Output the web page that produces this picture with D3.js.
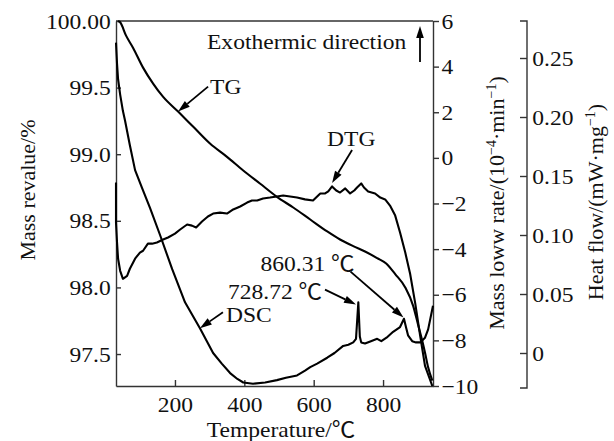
<!DOCTYPE html>
<html><head><meta charset="utf-8">
<script src="https://cdn.jsdelivr.net/npm/d3@7"></script>
<style>
body{margin:0;background:#fff}
svg{display:block}
svg text{font-family:"Liberation Serif","Times New Roman","Noto Sans CJK SC",serif !important;fill:#111}
</style>
</head><body>
<svg id="chart" width="614" height="441"></svg>
<script>
// ---------- data ----------
const tgTemperature = [36,42,59,79,108,137,166,209,255,301,350,396,445,494,541,590,639,676,714,748,783,809,835,864,887,901,913,921,930,942];
const tgMass = [100.00,99.99,99.89,99.80,99.65,99.53,99.43,99.32,99.20,99.08,98.98,98.88,98.78,98.68,98.60,98.51,98.42,98.36,98.31,98.27,98.22,98.18,98.10,98.00,97.86,97.72,97.60,97.51,97.40,97.30];

const dtgTemperature = [30,30,33,36,42,50,62,70,85,99,108,122,134,148,166,180,200,215,235,249,261,278,295,310,330,350,368,388,408,422,437,454,474,494,512,532,552,575,598,610,619,633,642,653,665,676,691,705,717,725,737,745,757,777,792,806,820,835,849,864,878,893,907,921,942];
const dtgRate = [-1.08,-2.84,-3.71,-4.42,-4.95,-5.30,-5.17,-4.86,-4.42,-4.15,-4.07,-3.76,-3.76,-3.71,-3.58,-3.49,-3.32,-3.14,-2.92,-2.97,-3.05,-2.79,-2.57,-2.44,-2.40,-2.44,-2.26,-2.13,-1.96,-1.87,-1.87,-1.78,-1.74,-1.69,-1.65,-1.69,-1.74,-1.82,-1.87,-1.69,-1.56,-1.56,-1.47,-1.25,-1.43,-1.52,-1.34,-1.56,-1.43,-1.30,-1.12,-1.30,-1.47,-1.56,-1.74,-1.82,-2.09,-2.53,-3.27,-4.15,-5.08,-6.40,-7.80,-9.12,-10.0];

const dscTemperature = [30,33,36,42,50,56,70,85,105,128,157,192,229,272,310,335,359,380,397,425,460,494,520,552,575,590,610,639,660,685,700,714,722,728.72,733,737,748,765,783,795,810,829,849,860.31,866,872,884,895,907,921,930,944];
const dscHeat = [0.263,0.245,0.232,0.219,0.205,0.197,0.176,0.155,0.140,0.123,0.100,0.071,0.043,0.021,0.000,-0.009,-0.017,-0.022,-0.025,-0.026,-0.025,-0.023,-0.021,-0.019,-0.015,-0.012,-0.009,-0.004,0.000,0.006,0.007,0.009,0.012,0.043,0.014,0.009,0.008,0.010,0.012,0.010,0.013,0.018,0.022,0.029,0.022,0.015,0.010,0.009,0.009,0.013,0.020,0.040];

const temperatureTicks = [200,400,600,800];
const massTicks = [97.5,98.0,98.5,99.0,99.5,100.0];
const rateTicks = [-10,-8,-6,-4,-2,0,2,4,6];
const heatTicks = [0,0.05,0.10,0.15,0.20,0.25];

const annotationLabels = ["TG","DTG","728.72 ℃","860.31 ℃","DSC"];
const annotationSeries = ["TG","DTG","DSC","DSC","DSC"];
const annotationT = [209,653,722,859,272];
const annotationV = [99.32,-1.10,0.041,0.030,0.021];

// ---------- layout ----------
const svg = d3.select("#chart");
const L = 116, R = 433, T = 21, B = 386;
const SX = 1.07; // horizontal text stretch seen in the reference
const FS = 22;
const SERIF = '"Liberation Serif","Times New Roman","Noto Sans CJK SC",serif';

const x = d3.scaleLinear().domain([30,944]).range([L,R]);
const yMass = d3.scaleLinear().domain([97.26,100]).range([B,T]);
const yRate = d3.scaleLinear().domain([-10,6]).range([B,T]);
const yHeat = d3.scaleLinear().domain([0,0.25]).range([353,58]);
const heatAxisX = 527, heatTop = 21, heatBottom = 388;

const axisColor = "#333";

function styleAxis(g){
  g.attr("font-family", SERIF).attr("font-size", FS);
  g.selectAll("path.domain").attr("stroke",axisColor).attr("stroke-width",1.4);
  g.selectAll(".tick line").attr("stroke",axisColor).attr("stroke-width",1.4);
  g.selectAll(".tick text").attr("font-size",FS).attr("fill","#111")
    .attr("font-family",SERIF).style("font-family",SERIF)
    .attr("transform",`scale(${SX},1)`);
}

// left axis (mass)
svg.append("g").attr("transform",`translate(${L},0)`)
  .call(d3.axisLeft(yMass).tickValues(massTicks)
    .tickFormat(d => d===100 ? "100.00" : d.toFixed(1))
    .tickSizeInner(-5).tickSizeOuter(0).tickPadding(5))
  .call(styleAxis);

// bottom axis
svg.append("g").attr("transform",`translate(0,${B})`)
  .call(d3.axisBottom(x).tickValues(temperatureTicks)
    .tickSizeInner(-6).tickSizeOuter(0).tickPadding(10))
  .call(styleAxis);

// top border
svg.append("line").attr("x1",L).attr("x2",R).attr("y1",T).attr("y2",T)
  .attr("stroke",axisColor).attr("stroke-width",1.4);

// middle right axis (rate)
svg.append("g").attr("transform",`translate(${R},0)`)
  .call(d3.axisRight(yRate).tickValues(rateTicks)
    .tickSizeInner(6).tickSizeOuter(0).tickPadding(2))
  .call(styleAxis);

// far right axis (heat flow)
const gh = svg.append("g").attr("transform",`translate(${heatAxisX},0)`)
  .call(d3.axisRight(yHeat).tickValues(heatTicks)
    .tickFormat(d => d===0 ? "0" : d.toFixed(2))
    .tickSizeInner(-7).tickSizeOuter(0).tickPadding(5))
  .call(styleAxis);
gh.select("path.domain").remove();
gh.append("path").attr("d",`M-7,${heatTop}H0V${heatBottom}H-7`)
  .attr("fill","none").attr("stroke",axisColor).attr("stroke-width",1.4);

// ---------- curves ----------
const lineStyle = p => p.attr("fill","none").attr("stroke","#000").attr("stroke-width",2.1).attr("stroke-linejoin","round");

svg.append("path").attr("d", d3.line().x((d,i)=>x(tgTemperature[i])).y((d,i)=>yMass(tgMass[i])).curve(d3.curveMonotoneX)(tgTemperature)).call(lineStyle);
svg.append("path").attr("d", d3.line().x((d,i)=>x(dtgTemperature[i])).y((d,i)=>yRate(dtgRate[i])).curve(d3.curveLinear)(dtgTemperature)).call(lineStyle);
svg.append("path").attr("d", d3.line().x((d,i)=>x(dscTemperature[i])).y((d,i)=>yHeat(dscHeat[i])).curve(d3.curveLinear)(dscTemperature)).call(lineStyle);

// ---------- axis titles ----------
function hText(str, px, py, anchor){
  return svg.append("text").attr("transform",`translate(${px},${py}) scale(${SX},1)`)
    .attr("font-size",FS).attr("text-anchor",anchor||"start").text(str);
}
hText("Temperature/℃", 281, 437, "middle");

svg.append("text").attr("transform",`translate(35,190) rotate(-90)`)
  .attr("font-size",FS).attr("text-anchor","middle").text("Mass revalue/%");

const t2 = svg.append("text").attr("transform",`translate(504,203) rotate(-90)`)
  .attr("font-size",FS).attr("text-anchor","middle");
t2.append("tspan").text("Mass loww rate/(10");
t2.append("tspan").attr("dy",-8).attr("font-size",14).text("−4");
t2.append("tspan").attr("dy",8).text("·min");
t2.append("tspan").attr("dy",-8).attr("font-size",14).text("−1");
t2.append("tspan").attr("dy",8).text(")");

const t3 = svg.append("text").attr("transform",`translate(603,202) rotate(-90)`)
  .attr("font-size",FS).attr("text-anchor","middle");
t3.append("tspan").text("Heat flow/(mW·mg");
t3.append("tspan").attr("dy",-8).attr("font-size",14).text("−1");
t3.append("tspan").attr("dy",8).text(")");

// exothermic direction
hText("Exothermic direction", 207, 49);
function arrow(x1,y1,x2,y2){
  const a = Math.atan2(y2-y1,x2-x1), len = 12, w = 3.8;
  const bx = x2 - len*Math.cos(a), by = y2 - len*Math.sin(a);
  svg.append("line").attr("x1",x1).attr("y1",y1).attr("x2",bx).attr("y2",by)
    .attr("stroke","#000").attr("stroke-width",1.8);
  const px = -Math.sin(a)*w, py = Math.cos(a)*w;
  svg.append("path").attr("d",`M${x2},${y2}L${bx+px},${by+py}L${bx-px},${by-py}Z`).attr("fill","#000");
}
arrow(420,62,420,26);

// ---------- annotations ----------
const scaleFor = {TG:yMass, DTG:yRate, DSC:yHeat};
const annLayout = [
  {tail:[30,-25], text:[32,-18]},
  {tail:[20,-33], text:[-5,-37]},
  {tail:[-31,-15], text:[-128,-6]},
  {tail:[-53,-46], text:[-143,-47]},
  {tail:[23,-16], text:[26,-6]}
];
annotationLabels.forEach((lab,i)=>{
  const tx = x(annotationT[i]), ty = scaleFor[annotationSeries[i]](annotationV[i]);
  const lay = annLayout[i];
  arrow(tx+lay.tail[0], ty+lay.tail[1], tx, ty);
  hText(lab, tx+lay.text[0], ty+lay.text[1]);
});
</script>
</body></html>
